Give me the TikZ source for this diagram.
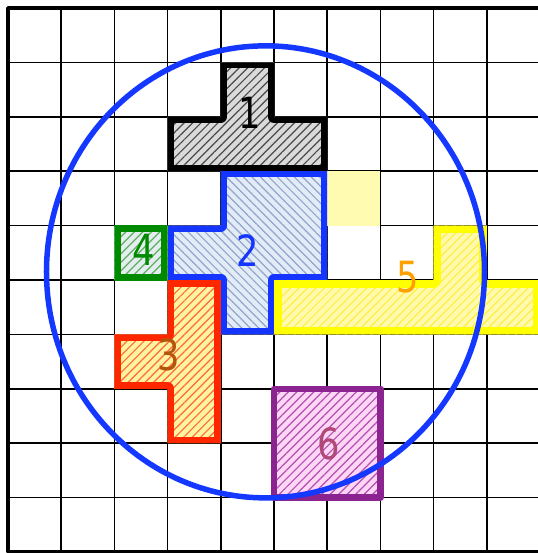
\documentclass[tikz,border=0pt]{standalone}
\usepackage{fontspec}
\newfontfamily\labelfont{DejaVu Sans}[FakeStretch=0.82]
\usetikzlibrary{patterns.meta}
\definecolor{cblue}{HTML}{1438FF}
\definecolor{sblue}{HTML}{1434FF}
\definecolor{sgreen}{HTML}{008A00}
\definecolor{sred}{HTML}{FF2600}
\definecolor{syellow}{HTML}{FFFF00}
\definecolor{spurple}{HTML}{8B2390}
\definecolor{fgray}{HTML}{DADADA}
\definecolor{fblue}{HTML}{E3EBF7}
\definecolor{fgreen}{HTML}{E4EEF0}
\definecolor{fred}{HTML}{FFF3A0}
\definecolor{fyellow}{HTML}{FFFAAE}
\definecolor{fpink}{HTML}{FFD6F6}
\definecolor{fsquare}{HTML}{FFFBB0}
\definecolor{hgray}{HTML}{4A4A4A}
\definecolor{hblue}{HTML}{8FA6CC}
\definecolor{hgreen}{HTML}{5EAE5E}
\definecolor{hred}{HTML}{FF6A3A}
\definecolor{hyellow}{HTML}{FFEE44}
\definecolor{hpurple}{HTML}{B050B0}
\definecolor{tbrown}{HTML}{B5550A}
\definecolor{torange}{HTML}{FFA000}
\definecolor{tmauve}{HTML}{B04878}
\newcommand\insettile[6]{%
  \fill[#1] #6;
  \fill[pattern={Lines[angle=#3,distance=6pt,line width=1.2pt]},pattern color=#2] #6;
  \begin{scope}\clip #6; \draw[#4,line width=#5] #6;\end{scope}}
\tikzset{
  gridline/.style={black,line width=1.6pt},
  lbl/.style={font=\labelfont\fontsize{43}{43}\selectfont,inner sep=0pt},
  ring/.style={cblue,line width=5.5pt}
}
\begin{document}
\begin{tikzpicture}[x=53.2pt,y=-54.4pt,line join=round]
\useasboundingbox (-0.1504,-0.1471) rectangle (9.962,10.018);
\clip (-0.1504,-0.1471) rectangle (9.962,10.018);
\fill[white] (-0.1504,-0.1471) rectangle (9.962,10.018);
\foreach \k in {0,...,10}{
  \draw[gridline] (\k,0) -- (\k,10);
  \draw[gridline] (0,\k) -- (10,\k);
}
\draw[black,line width=3.5pt] (0,0) rectangle (10,10);
% light square
\fill[fsquare] (6,3) rectangle (7,4);
% shape 1
\insettile{fgray}{hgray}{45}{black}{12pt}{(4,1)--(5,1)--(5,2)--(6,2)--(6,3)--(3,3)--(3,2)--(4,2)--cycle}
% shape 2
\insettile{fblue}{hblue}{-45}{sblue}{12pt}{(4,3)--(6,3)--(6,5)--(5,5)--(5,6)--(4,6)--(4,5)--(3,5)--(3,4)--(4,4)--cycle}
% shape 4
\insettile{fgreen}{hgreen}{45}{sgreen}{13pt}{(2,4)--(3,4)--(3,5)--(2,5)--cycle}
% shape 3
\insettile{fred}{hred}{45}{sred}{13pt}{(3,5)--(4,5)--(4,8)--(3,8)--(3,7)--(2,7)--(2,6)--(3,6)--cycle}
% shape 5
\insettile{fyellow}{hyellow}{45}{syellow}{15pt}{(8,4)--(9,4)--(9,5)--(10,5)--(10,6)--(5,6)--(5,5)--(8,5)--cycle}
% shape 6
\fill[fpink] (5,7) rectangle (7,9);
\fill[pattern={Lines[angle=45,distance=6pt,line width=1.2pt]},pattern color=hpurple] (5,7) rectangle (7,9);
\draw[spurple,line width=6.5pt] (5,7) rectangle (7,9);
% labels
\node[lbl,black] (n1) at (4.54,1.92) {1};
\node[lbl,sblue] (n2) at (4.51,4.45) {2};
\node[lbl,sgreen] (n4) at (2.55,4.45) {4};
\node[lbl,tbrown] (n3) at (3.03,6.38) {3};
\node[lbl,torange] (n5) at (7.52,4.94) {5};
\node[lbl,tmauve] (n6) at (6.03,8.01) {6};
% circle
\draw[ring] (4.84,4.85) ellipse [x radius=219pt, y radius=226pt];
\end{tikzpicture}
\end{document}
